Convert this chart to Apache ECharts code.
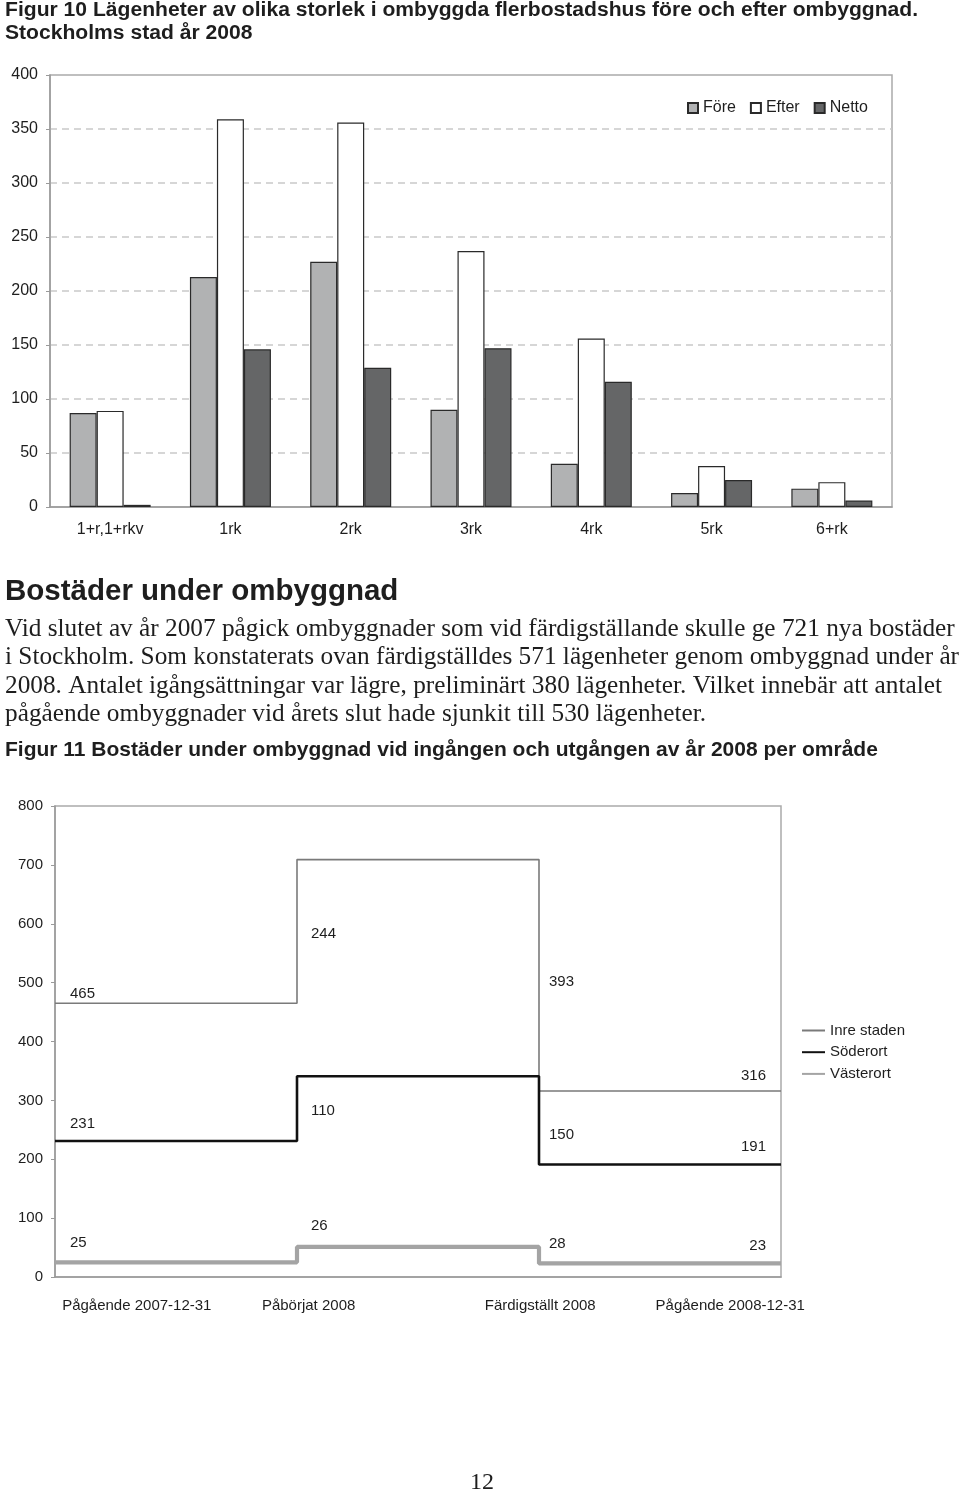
<!DOCTYPE html>
<html><head><meta charset="utf-8">
<script src="https://cdn.jsdelivr.net/npm/echarts@6/dist/echarts.min.js"></script>
<style>html,body{margin:0;padding:0;background:#fff}#c{width:960px;height:1495px}</style>
</head><body><div id="c"></div>
<script>
// ---------- Figur 10 data ----------
const sizeCategories = ['1+r,1+rkv', '1rk', '2rk', '3rk', '4rk', '5rk', '6+rk'];
const fore  = [87, 213, 227, 90, 40, 13, 17];
const efter = [89, 359, 356, 237, 156, 38, 23];
const netto = [2, 146, 129, 147, 116, 25, 6];
const fig10SeriesNames = ['Före', 'Efter', 'Netto'];

// ---------- Figur 11 data ----------
const phaseLabels = ['Pågående 2007-12-31', 'Påbörjat 2008', 'Färdigställt 2008', 'Pågående 2008-12-31'];
const areaNames = ['Inre staden', 'Söderort', 'Västerort'];
const inreLevels   = [465, 709, 316, 316];
const soderLevels  = [231, 341, 191, 191];
const vasterLevels = [25, 51, 23, 23];
const inreValues   = [465, 244, 393, 316];
const soderValues  = [231, 110, 150, 191];
const vasterValues = [25, 26, 28, 23];

// ---------- Text ----------
const titleLines = ['Figur 10 Lägenheter av olika storlek i ombyggda flerbostadshus före och efter ombyggnad.', 'Stockholms stad år 2008'];
const heading = 'Bostäder under ombyggnad';
const bodyLines = [
  'Vid slutet av år 2007 pågick ombyggnader som vid färdigställande skulle ge 721 nya bostäder',
  'i Stockholm. Som konstaterats ovan färdigställdes 571 lägenheter genom ombyggnad under år',
  '2008. Antalet igångsättningar var lägre, preliminärt 380 lägenheter. Vilket innebär att antalet',
  'pågående ombyggnader vid årets slut hade sjunkit till 530 lägenheter.'
];
const caption11 = 'Figur 11 Bostäder under ombyggnad vid ingången och utgången av år 2008 per område';
const pageNumber = '12';

// ---------- Styling (positions / offsets) ----------
const SANS = 'Liberation Sans, Arial, sans-serif';
const SERIF = 'Liberation Serif, Times New Roman, serif';
const TXT = '#1e1e1e';
const phaseLabelPos = [0.338, 1.048, 2.005, 2.79];   // label anchor positions on the 0..3 axis
const labelOffsets = {
  'Inre staden': [[15, -9], [14, 74], [10, -109], [-15, -15]],
  'Söderort':    [[15, -17], [14, 35], [10, -30], [-15, -18]],
  'Västerort':   [[15, -19], [14, -21], [10, -20], [-15, -18]]
};
const lineStyles = {
  'Inre staden': { color: '#7a7a7a', width: 1.6 },
  'Söderort':    { color: '#111111', width: 2.6 },
  'Västerort':   { color: '#a4a4a4', width: 4.2 }
};

function stepSeries(name, levels, values) {
  const offs = labelOffsets[name];
  return {
    name, type: 'line', step: 'end', xAxisIndex: 2, yAxisIndex: 1,
    symbol: 'circle', symbolSize: 0, showSymbol: true,
    lineStyle: { color: lineStyles[name].color, width: lineStyles[name].width },
    itemStyle: { color: lineStyles[name].color },
    emphasis: { disabled: true },
    data: levels.map((v, i) => ({
      value: v,
      label: {
        show: true, position: 'inside',
        align: i === levels.length - 1 ? 'right' : 'left',
        verticalAlign: 'middle',
        offset: offs[i],
        formatter: String(values[i]),
        fontFamily: SANS, fontSize: 15, color: TXT
      }
    }))
  };
}

const chart = echarts.init(document.getElementById('c'), null, { renderer: 'canvas' });

const graphics = [];
titleLines.forEach((t, i) => graphics.push({ type: 'text', left: 5, top: [0, 22.6][i], style: { text: t, font: 'bold 21.1px ' + SANS, fill: TXT } }));
graphics.push({ type: 'text', left: 5, top: 577, style: { text: heading, font: 'bold 29.5px ' + SANS, fill: TXT } });
bodyLines.forEach((t, i) => graphics.push({ type: 'text', left: 5, top: 616.5 + i * 28.6, style: { text: t, font: '25.3px ' + SERIF, fill: TXT } }));
graphics.push({ type: 'text', left: 5, top: 740, style: { text: caption11, font: 'bold 21px ' + SANS, fill: TXT } });
graphics.push({ type: 'text', left: 470, top: 1471, style: { text: pageNumber, font: '24px ' + SERIF, fill: TXT } });

const option = {
  backgroundColor: '#fff',
  animation: false,
  graphic: graphics,
  legend: [
    {
      data: fig10SeriesNames, left: 687, top: 100, icon: 'rect', padding: 0,
      itemWidth: 10, itemHeight: 10, itemGap: 14,
      textStyle: { fontFamily: SANS, fontSize: 16, color: TXT }
    },
    {
      data: areaNames, left: 801, top: 1023, orient: 'vertical', padding: 0,
      itemWidth: 23, itemHeight: 12, itemGap: 6.7,
      itemStyle: { opacity: 0 },
      textStyle: { fontFamily: SANS, fontSize: 15, color: TXT }
    }
  ],
  grid: [
    { left: 50, top: 75, width: 842, height: 432, show: true, borderColor: '#ababab', borderWidth: 1.5 },
    { left: 55, top: 806, width: 726, height: 471, show: true, borderColor: '#ababab', borderWidth: 1.5 }
  ],
  xAxis: [
    {
      gridIndex: 0, type: 'category', data: sizeCategories,
      axisLine: { lineStyle: { color: '#9a9a9a', width: 1.5 } },
      axisTick: { show: false },
      axisLabel: { margin: 15, fontFamily: SANS, fontSize: 16, color: TXT, interval: 0 }
    },
    {
      gridIndex: 1, type: 'value', min: 0, max: 3, position: 'bottom',
      axisLine: { lineStyle: { color: '#9a9a9a', width: 1.5 } },
      axisTick: { show: false }, splitLine: { show: false },
      axisLabel: {
        margin: 21, fontFamily: SANS, fontSize: 15, color: TXT,
        customValues: phaseLabelPos,
        formatter: (v) => { const k = phaseLabelPos.indexOf(v); return k >= 0 ? phaseLabels[k] : ''; }
      }
    },
    {
      gridIndex: 1, type: 'category', data: phaseLabels, boundaryGap: false, show: false, position: 'top'
    }
  ],
  yAxis: [
    {
      gridIndex: 0, type: 'value', min: 0, max: 400, interval: 50,
      axisLine: { show: true, lineStyle: { color: '#9a9a9a', width: 1.5 } },
      axisTick: { show: true, length: 4, lineStyle: { color: '#9a9a9a' } },
      axisLabel: { margin: 12, fontFamily: SANS, fontSize: 16, color: TXT },
      splitLine: { show: true, showMinLine: false, showMaxLine: false, lineStyle: { color: '#c9c9c9', width: 1.5, type: [7, 5] } }
    },
    {
      gridIndex: 1, type: 'value', min: 0, max: 800, interval: 100,
      axisLine: { show: true, lineStyle: { color: '#9a9a9a', width: 1.5 } },
      axisTick: { show: true, length: 4, lineStyle: { color: '#9a9a9a' } },
      axisLabel: { margin: 12, fontFamily: SANS, fontSize: 15, color: TXT },
      splitLine: { show: false }
    }
  ],
  series: [
    { name: 'Före', type: 'bar', xAxisIndex: 0, yAxisIndex: 0, data: fore, barWidth: 27, barGap: '0%',
      itemStyle: { color: '#b1b2b3', borderColor: '#2a2a2a', borderWidth: 1.2 } },
    { name: 'Efter', type: 'bar', xAxisIndex: 0, yAxisIndex: 0, data: efter, barWidth: 27, barGap: '0%',
      itemStyle: { color: '#ffffff', borderColor: '#2a2a2a', borderWidth: 1.2 } },
    { name: 'Netto', type: 'bar', xAxisIndex: 0, yAxisIndex: 0, data: netto, barWidth: 27, barGap: '0%',
      itemStyle: { color: '#656667', borderColor: '#2a2a2a', borderWidth: 1.2 } },
    stepSeries('Inre staden', inreLevels, inreValues),
    stepSeries('Söderort', soderLevels, soderValues),
    stepSeries('Västerort', vasterLevels, vasterValues)
  ]
};
chart.setOption(option);
</script>
</body></html>
